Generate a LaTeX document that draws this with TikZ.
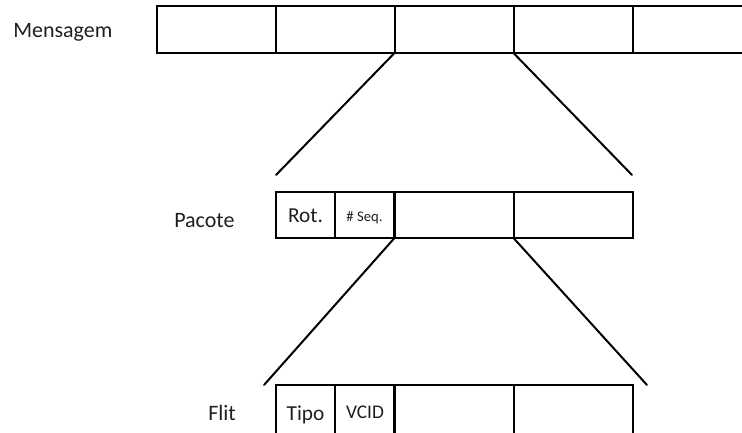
\documentclass[tikz,border=0pt]{standalone}
\usepackage{fontspec}
\setmainfont{Carlito}
\begin{document}
\begin{tikzpicture}[x=0.75pt,y=-0.75pt,
  cell/.style={draw, line width=1.5pt, inner sep=0pt, outer sep=0pt,
               minimum height=#1},
  cellw/.style={minimum width=#1},
  fan/.style={line width=1.5pt, line cap=round},
  lbl/.style={font=\fontsize{16.5}{18}\selectfont, anchor=base west, inner sep=0pt, text=black!88},
  txt/.style={font=\fontsize{16}{18}\selectfont, anchor=base, inner sep=0pt, text=black!88}]
\useasboundingbox (0,0) rectangle (742,432);
\begin{scope}
\clip (0,0) rectangle (742,432);
% message row
\node[cell=35.25pt, cellw=89.25pt] (m1) at (216.5,29.5) {};
\node[cell=35.25pt, cellw=89.25pt] (m2) at (335,29.5) {};
\node[cell=35.25pt, cellw=89.25pt] (m3) at (454,29.5) {};
\node[cell=35.25pt, cellw=89.25pt] (m4) at (573,29.5) {};
\node[cell=35.25pt, cellw=89.25pt] (m5) at (692,29.5) {};
% packet row
\node[cell=34.5pt, cellw=44.25pt] (p1) at (305.5,215) {};
\node[cell=34.5pt, cellw=44.25pt] (p2) at (364.5,215) {};
\node[cell=34.5pt, cellw=89.25pt] (p3) at (454,215) {};
\node[cell=34.5pt, cellw=89.25pt] (p4) at (573,215) {};
% flit row (runs past the lower edge)
\node[cell=41.25pt, cellw=44.25pt] (f1) at (305.5,412.5) {};
\node[cell=41.25pt, cellw=44.25pt] (f2) at (364.5,412.5) {};
\node[cell=41.25pt, cellw=89.25pt] (f3) at (454,412.5) {};
\node[cell=41.25pt, cellw=89.25pt] (f4) at (573,412.5) {};
\end{scope}
% expansion lines
\coordinate (a1) at (276,175);
\coordinate (a2) at (632,175);
\coordinate (b1) at (264,385);
\coordinate (b2) at (647,385);
\draw[fan] (m3.south west) -- (a1);
\draw[fan] (m3.south east) -- (a2);
\draw[fan] (p3.south west) -- (b1);
\draw[fan] (p3.south east) -- (b2);
% row labels
\node[lbl] (lm) at (13,37) {Mensagem};
\node[lbl] (lp) at (174,227) {Pacote};
\node[lbl] (lf) at (208,420) {Flit};
% field labels
\node[txt] (t1) at (305.5,222) {Rot.};
\node[txt, font=\fontsize{11}{12}\selectfont] (t2) at (364.5,221) {\# Seq.};
\node[txt] (t3) at (305.5,420) {Tipo};
\node[txt, font=\fontsize{14.5}{16}\selectfont] (t4) at (365,418) {VCID};
\end{tikzpicture}
\end{document}
